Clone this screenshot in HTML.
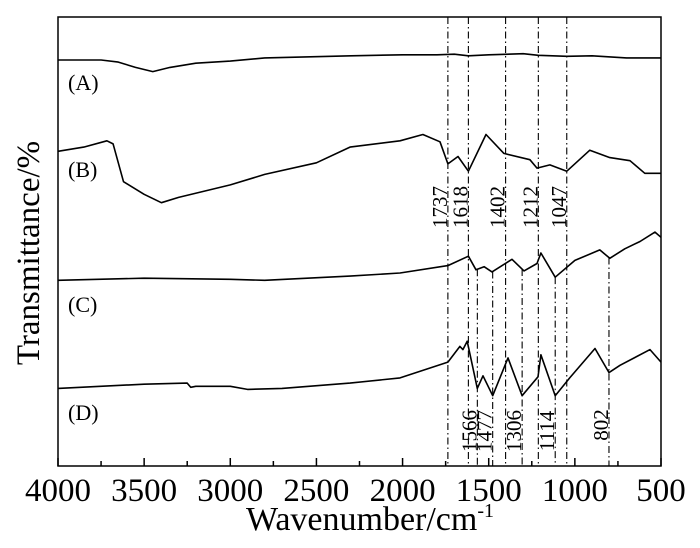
<!DOCTYPE html>
<html><head><meta charset="utf-8"><style>
html,body{margin:0;padding:0;background:#fff}
svg{display:block;font-family:"Liberation Serif",serif}
</style></head><body>
<svg id="chart" width="700" height="548" viewBox="0 0 700 548">
<rect x="58" y="17" width="603" height="449" fill="none" stroke="#000" stroke-width="1.5"/>
<g id="ticks"></g>
<g id="lines"></g>
<g id="series"></g>
<g id="labels"></g>
<text x="68" y="90" font-size="22">(A)</text>
<text x="68" y="177" font-size="22">(B)</text>
<text x="68" y="312" font-size="22">(C)</text>
<text x="68" y="420" font-size="22">(D)</text>
<text transform="translate(39,253) rotate(-90)" text-anchor="middle" font-size="33">Transmittance/%</text>
<text x="370" y="530" text-anchor="middle" font-size="34">Wavenumber/cm<tspan font-size="20" dy="-13">-1</tspan></text>
</svg>
<script>
const xTicks = [4000,3500,3000,2500,2000,1500,1000,500];
const minorTicks = [3750,3250,2750,2250,1750,1250,750];
const aWn = [4000,3750,3650,3550,3450,3350,3200,3000,2800,2300,2000,1800,1700,1618,1500,1300,1212,1047,900,700,500];
const aT = [387,387,385,380,376,380,384,386,389,391,392,392,392.5,391,392,393,391.5,390.5,391,389,389];
const bWn = [4000,3850,3716,3680,3620,3500,3400,3300,3000,2800,2500,2305,2015,1882,1783,1737,1678,1618,1516,1412,1261,1220,1145,1047,913,797,680,594,500];
const bT = [300,304,310,307,271,259,251,256,268,278,289,304,310,316,309,288,295,281,316,298,292,284,287,281,301,294,291,279,279];
const cWn = [4000,3500,3000,2800,2305,2015,1737,1618,1574,1527,1481,1365,1295,1220,1197,1114,1000,855,797,710,622,535,500];
const cT = [177,179,178,177,181,184,191,200,187,190,185,197,186,193,203,180,196,206,198,207,214,223,218];
const dWn = [4000,3500,3250,3230,3200,3000,2900,2700,2305,2015,1737,1667,1650,1625,1566,1533,1477,1388,1306,1214,1197,1114,1030,883,802,738,564,500];
const dT = [74,78,79,75,76,76,73,74,79,84,99,114,111,119,74,86,67,103,67,85,106,67,84,112,89,96,111,99];
const topPeaks = [1737,1618,1402,1212,1047];
const bottomPeaks = [1566,1477,1306,1114,802];

const NS = "http://www.w3.org/2000/svg";
const X = w => 58 + (4000 - w) * 603 / 3500;
const Y = t => 466 - t * 449 / 428;
function interp(wn, t, w){
  for (let i=0;i<wn.length-1;i++){
    if (w<=wn[i] && w>=wn[i+1]){ const f=(wn[i]-w)/(wn[i]-wn[i+1]); return t[i]+f*(t[i+1]-t[i]); }
  }
  return t[t.length-1];
}
const gT = document.getElementById('ticks');
xTicks.forEach(v=>{
  const l=document.createElementNS(NS,'line');
  l.setAttribute('x1',X(v));l.setAttribute('x2',X(v));l.setAttribute('y1',466);l.setAttribute('y2',458);l.setAttribute('stroke','#000');l.setAttribute('stroke-width','1.5');
  
  
  gT.appendChild(l);
  const t=document.createElementNS(NS,'text');
  t.setAttribute('x',X(v));t.setAttribute('y',501);t.setAttribute('text-anchor','middle');t.setAttribute('font-size','33');
  t.textContent=v;
  
  
  gT.appendChild(t);
});
minorTicks.forEach(v=>{
  const l=document.createElementNS(NS,'line');
  l.setAttribute('x1',X(v));l.setAttribute('x2',X(v));l.setAttribute('y1',466);l.setAttribute('y2',461);l.setAttribute('stroke','#000');l.setAttribute('stroke-width','1.5');
  
  
  gT.appendChild(l);
});
const gS = document.getElementById('series');
[[aWn,aT,'spectrum-a'],[bWn,bT,'spectrum-b'],[cWn,cT,'spectrum-c'],[dWn,dT,'spectrum-d']].forEach(s=>{
  const p=document.createElementNS(NS,'polyline');
  p.setAttribute('points', s[0].map((w,i)=>X(w).toFixed(1)+','+Y(s[1][i]).toFixed(1)).join(' '));
  p.setAttribute('fill','none');p.setAttribute('stroke','#000');p.setAttribute('stroke-width','1.6');p.setAttribute('stroke-linejoin','round');
  
  
  gS.appendChild(p);
});
const gL = document.getElementById('lines');
const gLab = document.getElementById('labels');
function peak(w, y1, labY){
  const l=document.createElementNS(NS,'line');
  l.setAttribute('x1',X(w));l.setAttribute('x2',X(w));l.setAttribute('y1',y1);l.setAttribute('y2',466);
  l.setAttribute('stroke','#000');l.setAttribute('stroke-width','1.1');l.setAttribute('stroke-dasharray','7,3,1.5,3');
  
  
  gL.appendChild(l);
  const t=document.createElementNS(NS,'text');
  t.setAttribute('transform','translate('+(X(w)-1)+','+labY+') rotate(-90)');
  t.setAttribute('text-anchor','middle');t.setAttribute('font-size','21');
  t.textContent=w;
  
  
  gLab.appendChild(t);
}
topPeaks.forEach(w=>peak(w,17,207));
bottomPeaks.forEach(w=>peak(w,Y(interp(cWn,cT,w)), w===802?425:431));
</script>
</body></html>
